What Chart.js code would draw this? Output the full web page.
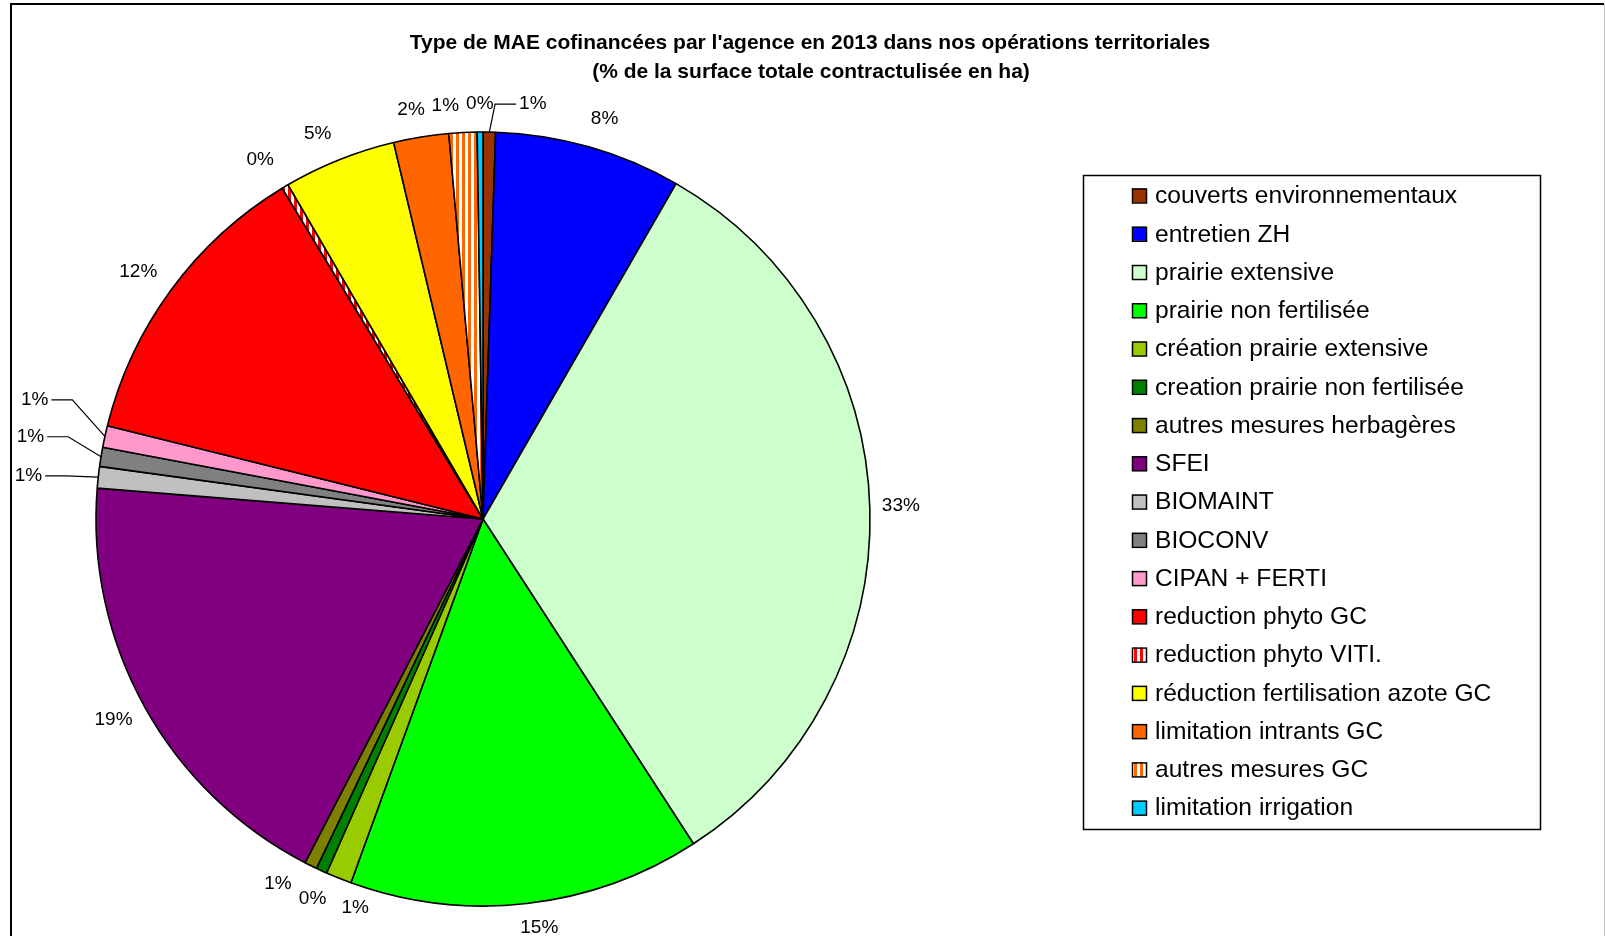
<!DOCTYPE html>
<html>
<head>
<meta charset="utf-8">
<script src="https://cdn.jsdelivr.net/npm/chart.js@4.4.0/dist/chart.umd.min.js"></script>
<style>
  html, body { margin: 0; padding: 0; background: #fff; overflow: hidden; }
  canvas { display: block; }
</style>
</head>
<body>
<canvas id="pie" width="1605" height="936"></canvas>
<script>
// chart text + data (percent of contracted surface)
var titleLines = [
  "Type de MAE cofinancées par l'agence en 2013 dans nos opérations territoriales",
  "(% de la surface totale contractulisée en ha)"
];

var categories = [
  'couverts environnementaux',
  'entretien ZH',
  'prairie extensive',
  'prairie non fertilisée',
  'création prairie extensive',
  'creation prairie non fertilisée',
  'autres mesures herbagères',
  'SFEI',
  'BIOMAINT',
  'BIOCONV',
  'CIPAN + FERTI',
  'reduction phyto GC',
  'reduction phyto VITI.',
  'réduction fertilisation azote GC',
  'limitation intrants GC',
  'autres mesures GC',
  'limitation irrigation'
];

var shares = [0.52, 7.8, 32.55, 14.7, 1.08, 0.46, 0.52, 18.68, 0.9, 0.8, 0.9, 12.45, 0.28, 4.7, 2.3, 1.17, 0.24];

var colors = [
  '#993300', '#0000FF', '#CCFFCC', '#00FF00', '#99CC00', '#008000', '#808000',
  '#800080', '#C0C0C0', '#808080', '#FF99CC', '#FF0000', 'stripe:#FF0000',
  '#FFFF00', '#FF6600', 'stripe:#FF6600', '#00CCFF'
];

// label nudges (px) away from the default spot just outside the slice
var labelNudge = [
  [43, 3], [7, 2], [0, -2], [9, -7], [28, 1], [4, 0], [-19, -10], [-4, -2],
  [-39, 2], [-40, -15], [-40, -30], [-8, 0], [-9, 0], [-10, 3], [-5, 3], [-16, 4], [0, 3]
];
var leaderLines = [0, 8, 9, 10];

function stripes(color) {
  var c = document.createElement('canvas');
  c.width = 6; c.height = 6;
  var g = c.getContext('2d');
  g.fillStyle = '#fff';
  g.fillRect(0, 0, 6, 6);
  g.fillStyle = color;
  g.fillRect(0, 0, 3, 6);
  return g.createPattern(c, 'repeat');
}

var fills = colors.map(function(c) {
  return c.indexOf('stripe:') === 0 ? stripes(c.slice(7)) : c;
});

var pctLabels = {
  id: 'pctLabels',
  afterDatasetsDraw: function(chart, args, opts) {
    var ctx = chart.ctx;
    var meta = chart.getDatasetMeta(0);
    var data = chart.data.datasets[0].data;
    var total = data.reduce(function(a, b) { return a + b; }, 0);
    ctx.save();
    ctx.font = opts.font;
    ctx.fillStyle = '#000';
    ctx.strokeStyle = '#000';
    ctx.lineWidth = 1.2;
    ctx.textAlign = 'center';
    ctx.textBaseline = 'middle';
    meta.data.forEach(function(arc, i) {
      var p = arc.getProps(['x', 'y', 'startAngle', 'endAngle', 'outerRadius'], true);
      var mid = (p.startAngle + p.endAngle) / 2;
      var d = p.outerRadius + opts.offset;
      var n = opts.nudge[i] || [0, 0];
      var tx = p.x + Math.cos(mid) * d + n[0];
      var ty = p.y + Math.sin(mid) * d + n[1];
      var txt = Math.round(data[i] / total * 100) + '%';
      ctx.fillText(txt, tx, ty);
      if (opts.leaders.indexOf(i) >= 0) {
        var w = ctx.measureText(txt).width;
        var ex = p.x + Math.cos(mid) * p.outerRadius;
        var ey = p.y + Math.sin(mid) * p.outerRadius;
        var side = tx < p.x ? 1 : -1;
        ctx.beginPath();
        ctx.moveTo(tx + side * (w / 2 + 3), ty);
        ctx.lineTo(tx + side * (w / 2 + 24), ty);
        ctx.lineTo(ex, ey);
        ctx.stroke();
      }
    });
    ctx.restore();
  }
};

// frame, title and boxed legend
var decor = {
  id: 'decor',
  afterDraw: function(chart) {
    var ctx = chart.ctx;
    ctx.save();
    // frame
    ctx.strokeStyle = '#000';
    ctx.lineWidth = 2;
    ctx.beginPath();
    ctx.moveTo(11, 936);
    ctx.lineTo(11, 4);
    ctx.lineTo(1604, 4);
    ctx.stroke();
    ctx.strokeStyle = '#c8c8c8';
    ctx.lineWidth = 1;
    ctx.beginPath();
    ctx.moveTo(1604.5, 4);
    ctx.lineTo(1604.5, 936);
    ctx.stroke();

    // title
    ctx.fillStyle = '#000';
    ctx.font = 'bold 21px "Liberation Sans", Arial, sans-serif';
    ctx.textAlign = 'center';
    ctx.textBaseline = 'middle';
    ctx.fillText(titleLines[0], 810, 43);
    ctx.fillText(titleLines[1], 811, 72);

    // legend
    ctx.lineWidth = 1.5;
    ctx.strokeStyle = '#000';
    ctx.strokeRect(1083.5, 175.5, 457, 654);
    ctx.font = '24.6px "Liberation Sans", Arial, sans-serif';
    ctx.textAlign = 'left';
    var bg = chart.data.datasets[0].backgroundColor;
    chart.data.labels.forEach(function(lbl, i) {
      var cy = 195.5 + i * 38.26;
      ctx.fillStyle = bg[i];
      ctx.fillRect(1132, cy - 7, 14, 14);
      ctx.lineWidth = 1.5;
      ctx.strokeStyle = '#000';
      ctx.strokeRect(1132.5, cy - 6.5, 14, 14);
      ctx.fillStyle = '#000';
      ctx.fillText(lbl, 1155, cy + 1);
    });
    ctx.restore();
  }
};

var chartInstance = new Chart(document.getElementById('pie'), {
  type: 'pie',
  data: {
    labels: categories,
    datasets: [{
      data: shares,
      backgroundColor: fills,
      borderColor: '#000',
      borderWidth: 1.6,
      hoverOffset: 0
    }]
  },
  options: {
    responsive: false,
    animation: false,
    events: [],
    radius: 387,
    layout: { padding: { left: 96, right: 735, top: 132, bottom: 30 } },
    plugins: {
      legend: { display: false },
      title: { display: false },
      tooltip: { enabled: false },
      pctLabels: {
        font: '19px "Liberation Sans", Arial, sans-serif',
        offset: 31,
        nudge: labelNudge,
        leaders: leaderLines
      }
    }
  },
  plugins: [pctLabels, decor]
});
</script>
</body>
</html>
